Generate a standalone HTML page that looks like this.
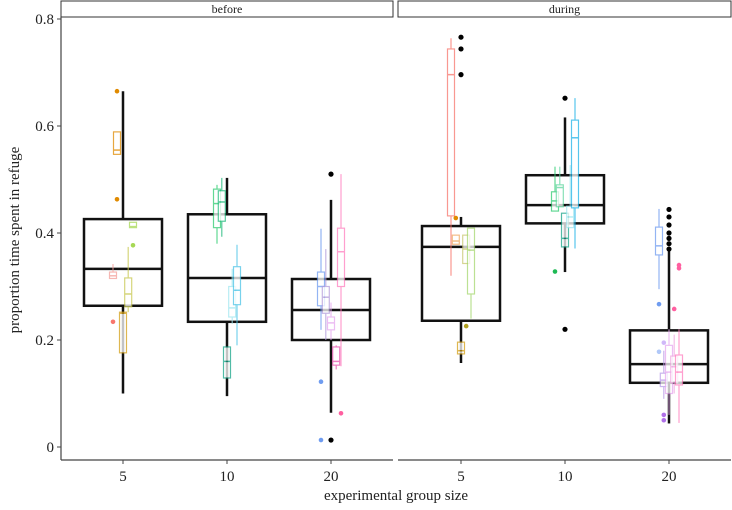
<!DOCTYPE html>
<html><head><meta charset="utf-8"><style>
body{margin:0;background:#fff}
svg{display:block;font-family:"Liberation Serif",serif}
</style></head><body>
<svg id="chart" width="732" height="510" viewBox="0 0 732 510" xmlns="http://www.w3.org/2000/svg">
<g id="plot"></g>
</svg>
<script>
const panels = ["before","during"];
const groups = ["5","10","20"];
const yTicks = [0,0.2,0.4,0.6,0.8];
const yTickLabels = ["0","0.2","0.4","0.6","0.8"];
// overall boxes: [panel, group, lo, q1, med, q3, hi]
const mainBoxes = [
 [0,0,0.10,0.264,0.333,0.426,0.665],
 [0,1,0.095,0.234,0.316,0.435,0.503],
 [0,2,0.064,0.200,0.256,0.314,0.462],
 [1,0,0.157,0.236,0.374,0.413,0.430],
 [1,1,0.327,0.418,0.452,0.508,0.616],
 [1,2,0.044,0.120,0.155,0.218,0.366]
];
const mainOutliers = [
 [0,2,0.51],[0,2,0.013],
 [1,0,0.766],[1,0,0.744],[1,0,0.696],
 [1,1,0.652],[1,1,0.22],
 [1,2,0.444],[1,2,0.43],[1,2,0.415],[1,2,0.40],[1,2,0.39],[1,2,0.38],[1,2,0.37]
];
// individual-group boxes: [panel, group, offset(-1..1 slots), color, lo, q1, med, q3, hi]
const subBoxes = [
 [0,0,-0.15,"#e08a00",0.547,0.547,0.555,0.589,0.589],
 [0,0,0.25,"#a6d854",0.41,0.41,0.412,0.42,0.42],
 [0,0,-0.25,"#f4a09a",0.315,0.315,0.32,0.327,0.342],
 [0,0,0.13,"#c8c850",0.252,0.262,0.286,0.316,0.374],
 [0,0,0,"#d4a017",0.176,0.176,0.25,0.252,0.252],
 [0,1,-0.25,"#2ecc71",0.38,0.41,0.455,0.482,0.49],
 [0,1,-0.13,"#1db97a",0.393,0.422,0.458,0.479,0.503],
 [0,1,0.13,"#a0e6f0",0.23,0.243,0.26,0.30,0.333],
 [0,1,0.25,"#4cc3e6",0.19,0.266,0.293,0.337,0.378],
 [0,1,0,"#17a589",0.129,0.129,0.16,0.187,0.187],
 [0,2,-0.25,"#6f9cf0",0.219,0.264,0.30,0.327,0.408],
 [0,2,-0.13,"#b39ddb",0.2,0.25,0.28,0.30,0.37],
 [0,2,0,"#e6a8f0",0.2,0.219,0.232,0.243,0.27],
 [0,2,0.13,"#e754b0",0.145,0.153,0.16,0.187,0.19],
 [0,2,0.25,"#ff7fbf",0.151,0.30,0.365,0.409,0.51],
 [1,0,-0.25,"#f8766d",0.32,0.432,0.696,0.744,0.764],
 [1,0,-0.13,"#f0a860",0.379,0.379,0.385,0.396,0.396],
 [1,0,0.13,"#c8c870",0.343,0.343,0.37,0.396,0.396],
 [1,0,0.25,"#a6d870",0.24,0.286,0.368,0.409,0.409],
 [1,0,0,"#d4a017",0.174,0.174,0.18,0.196,0.196],
 [1,1,-0.25,"#2ecc71",0.441,0.441,0.46,0.477,0.524],
 [1,1,-0.13,"#5fd6a0",0.449,0.449,0.485,0.49,0.524],
 [1,1,0,"#17a589",0.374,0.374,0.39,0.437,0.437],
 [1,1,0.13,"#a0e6f0",0.41,0.41,0.43,0.45,0.527],
 [1,1,0.25,"#1fb3e8",0.371,0.447,0.578,0.611,0.652],
 [1,2,-0.25,"#6f9cf0",0.295,0.359,0.376,0.411,0.445],
 [1,2,-0.13,"#b89be8",0.09,0.113,0.125,0.138,0.18],
 [1,2,0,"#e6a8f0",0.06,0.10,0.14,0.19,0.22],
 [1,2,0.13,"#f0a8e0",0.1,0.12,0.15,0.17,0.21],
 [1,2,0.25,"#ff7fbf",0.045,0.116,0.14,0.172,0.22]
];
const subOutliers = [
 [0,0,-0.15,"#e08a00",0.665],[0,0,-0.15,"#e08a00",0.463],
 [0,0,0.25,"#a6d854",0.377],[0,0,-0.25,"#f8766d",0.234],
 [0,2,-0.25,"#6f9cf0",0.122],[0,2,-0.25,"#6f9cf0",0.013],[0,2,0.25,"#ff5fa0",0.063],
 [1,0,-0.13,"#e08a00",0.428],[1,0,0.13,"#b0a020",0.226],
 [1,1,-0.25,"#1db954",0.328],
 [1,2,-0.25,"#6f9cf0",0.267],[1,2,-0.25,"#b0c8f8",0.178],[1,2,-0.13,"#d0b8f8",0.195],
 [1,2,-0.13,"#b070e8",0.06],[1,2,-0.13,"#b070e8",0.05],
 [1,2,0.25,"#ff5fa0",0.34],[1,2,0.25,"#ff5fa0",0.334],[1,2,0.13,"#ff5fa0",0.258]
];

const NS="http://www.w3.org/2000/svg";
const g=document.getElementById('plot');
const panelX=[[61,393],[398,731]];
const groupX=[[123,227,331],[461,565,669]];
function yS(v){return 447-535*v;}
function xS(p,gi,off){return groupX[p][gi]+off*40;}
function el(tag,attrs,parent){const e=document.createElementNS(NS,tag);for(const k in attrs)e.setAttribute(k,attrs[k]);(parent||g).appendChild(e);return e;}

// strips & axes
panels.forEach((p,i)=>{
  const [x0,x1]=panelX[i];
  const s=el('rect',{x:x0,y:1,width:x1-x0,height:16,fill:'#fff',stroke:'#333','stroke-width':1});
  
  
  const t=el('text',{x:(x0+x1)/2,y:13,'text-anchor':'middle','font-size':12,fill:'#222'});
  t.textContent=p;
  
  
  const ax=el('line',{x1:x0,x2:x1,y1:460,y2:460,stroke:'#444','stroke-width':1.2});
  
  
  groups.forEach((gr,j)=>{
    const x=groupX[i][j];
    el('line',{x1:x,x2:x,y1:460,y2:464,stroke:'#444'});
    const tl=el('text',{x:x,y:481,'text-anchor':'middle','font-size':15,fill:'#222'});
    tl.textContent=gr;
    
    
  });
});
const ya=el('line',{x1:61,x2:61,y1:17,y2:460,stroke:'#444','stroke-width':1.2});


yTicks.forEach((v,i)=>{
  el('line',{x1:57,x2:61,y1:yS(v),y2:yS(v),stroke:'#444'});
  const t=el('text',{x:54,y:yS(v)+5,'text-anchor':'end','font-size':15,fill:'#222'});
  t.textContent=yTickLabels[i];
  
  
});
const yl=el('text',{x:0,y:0,transform:'translate(19,240) rotate(-90)','text-anchor':'middle','font-size':15,fill:'#222'});
yl.textContent='proportion time spent in refuge';


const xl=el('text',{x:396,y:500,'text-anchor':'middle','font-size':15,fill:'#222'});
xl.textContent='experimental group size';



// main boxes
mainBoxes.forEach(b=>{
  const [p,gi,lo,q1,md,q3,hi]=b;
  const x=xS(p,gi,0),w=39;
  const bg=el('g',{});
  
  
  el('line',{x1:x,x2:x,y1:yS(hi),y2:yS(q3),stroke:'#111','stroke-width':2.5},bg);
  el('line',{x1:x,x2:x,y1:yS(q1),y2:yS(lo),stroke:'#111','stroke-width':2.5},bg);
  el('rect',{x:x-w,y:yS(q3),width:2*w,height:yS(q1)-yS(q3),fill:'none',stroke:'#111','stroke-width':2.5},bg);
  el('line',{x1:x-w,x2:x+w,y1:yS(md),y2:yS(md),stroke:'#111','stroke-width':2.5},bg);
});
// sub boxes
subBoxes.forEach(b=>{
  const [p,gi,off,c,lo,q1,md,q3,hi]=b;
  const x=xS(p,gi,off),w=3.5;
  const bg=el('g',{opacity:0.75});
  
  
  el('line',{x1:x,x2:x,y1:yS(hi),y2:yS(lo),stroke:c,'stroke-width':1.2},bg);
  el('rect',{x:x-w,y:yS(q3),width:2*w,height:Math.max(1,yS(q1)-yS(q3)),fill:'#fff',stroke:c,'stroke-width':1.2},bg);
  el('line',{x1:x-w,x2:x+w,y1:yS(md),y2:yS(md),stroke:c,'stroke-width':1.5},bg);
});
mainOutliers.forEach(o=>{
  const c=el('circle',{cx:xS(o[0],o[1],0),cy:yS(o[2]),r:2.6,fill:'#000'});
  
  
});
subOutliers.forEach(o=>{
  const c=el('circle',{cx:xS(o[0],o[1],o[2]),cy:yS(o[4]),r:2.3,fill:o[3]});
  
  
});
</script>
</body></html>
